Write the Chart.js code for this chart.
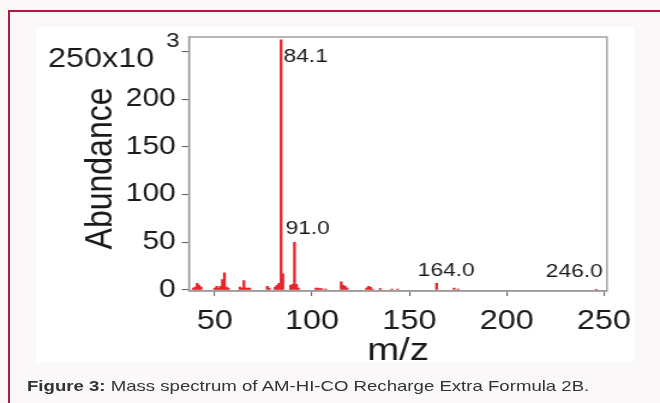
<!DOCTYPE html>
<html><head><meta charset="utf-8">
<script src="https://cdn.jsdelivr.net/npm/chart.js@4.4.1/dist/chart.umd.min.js"></script>
<style>
html,body{margin:0;padding:0;}
body{width:660px;height:403px;background:#faf8f9;position:relative;overflow:hidden;font-family:"Liberation Sans",Arial,sans-serif;}
#frame{position:absolute;left:8px;top:10px;width:700px;height:450px;border-left:2px solid #b01c40;border-top:2px solid #b01c40;}
#panel{position:absolute;left:36px;top:27px;width:598px;height:335px;background:#fff;}
#wrap{position:absolute;left:36px;top:27px;width:498px;height:360px;transform:scaleX(1.2);transform-origin:0 0;}
#cap{position:absolute;left:27px;top:377px;font-size:15px;color:#333;white-space:nowrap;transform:scaleX(1.24);transform-origin:0 0;}
</style></head>
<body>
<div id="frame"></div><div id="panel"></div>
<div id="wrap"><canvas id="c" width="498" height="360"></canvas></div>
<div id="cap"><b>Figure 3:</b> Mass spectrum of AM-HI-CO Recharge Extra Formula 2B.</div>
<script>
const mzValues  = [39,40,41,42,43,50,51,52,53,54,55,56,57,63,64,65,66,67,68,77,78,81,82,83,84.1,85,89,90,91,92,93,102,103,104,105,107,115,116,117,118,128,129,130,131,135,141,144,164,173,175,246];
const abundance = [2000,3000,7000,5000,3000,2000,4000,2000,4000,11000,18000,3000,2000,3000,2000,10000,2000,2000,2000,4000,2000,3000,5000,7000,262000,17000,5000,6000,50000,6000,2000,2000,2000,1500,1500,1000,8500,5000,4000,2000,2000,4000,3000,1000,1500,1000,1000,7000,2000,1000,500];
const xTickValues = [50,100,150,200,250];
const yTickValues = [0,50000,100000,150000,200000,250000];
const yTopTickText = "250x10";
const yTopExponent = "3";
const peakLabelMz   = [84.1,91.0,164.0,246.0];
const peakLabelText = ["84.1","91.0","164.0","246.0"];
const xTitle = "m/z";
const yTitle = "Abundance ";

const FONT = "'Liberation Sans', Arial, sans-serif";
const labelStyle = {
  "84.1":  {dx:2,   dy:17,  align:'left'},
  "91.0":  {dx:11,  dy:-14, align:'center'},
  "164.0": {dx:8,   dy:-13, align:'center'},
  "246.0": {dx:5.5, dy:-18, align:'right'}
};

const overlay = {
  id:'overlay',
  afterDraw(chart){
    const {ctx, chartArea:a, scales:{x,y}} = chart;
    ctx.save();
    ctx.strokeStyle = '#9a9a9a';
    ctx.lineWidth = 1.4;
    ctx.strokeRect(a.left, a.top, a.right-a.left, a.bottom-a.top);
    ctx.fillStyle = '#1a1a1a';
    ctx.font = '19px ' + FONT;
    ctx.textBaseline = 'middle';
    peakLabelMz.forEach((m,i)=>{
      const idx = mzValues.indexOf(m);
      const px = x.getPixelForValue(m);
      const py = y.getPixelForValue(abundance[idx]);
      const st = labelStyle[peakLabelText[i]];
      ctx.textAlign = st.align;
      ctx.fillText(peakLabelText[i], px+st.dx, py+st.dy);
    });
    const ty = y.getPixelForValue(yTickValues[yTickValues.length-1]);
    ctx.textAlign = 'right';
    ctx.font = '27px ' + FONT;
    ctx.fillText(yTopTickText, a.left - 29, ty + 8);
    ctx.font = '20px ' + FONT;
    ctx.fillText(yTopExponent, a.left - 8, ty - 10);
    ctx.restore();
  }
};

new Chart(document.getElementById('c'), {
  type:'bar',
  data:{datasets:[{
    data: mzValues.map((m,i)=>({x:m, y:abundance[i]})),
    backgroundColor:'#e6262b',
    borderWidth:0,
    barThickness:1.7,
    grouped:false
  }]},
  options:{
    responsive:false, animation:false, devicePixelRatio:1,
    layout:{padding:{top:10,right:22.2,left:0,bottom:0}},
    plugins:{legend:{display:false}, tooltip:{enabled:false}},
    scales:{
      x:{
        type:'linear', min:36.8, max:251.5, offset:false,
        afterBuildTicks:s=>{s.ticks = xTickValues.map(v=>({value:v}));},
        afterFit:s=>{s.height = 96; s.paddingLeft = 0; s.paddingRight = 0;},
        ticks:{autoSkip:false, maxRotation:0, padding:9, color:'#1a1a1a', font:{family:FONT, size:27}},
        grid:{display:true, offset:false, drawOnChartArea:false, drawTicks:true, tickLength:5, color:'#666', lineWidth:1.1},
        border:{display:true, color:'#9a9a9a', width:1.4},
        title:{display:true, text:xTitle, color:'#1a1a1a', font:{family:FONT, size:32}, padding:{top:0,bottom:17}}
      },
      y:{
        min:-1000, max:265000,
        afterBuildTicks:s=>{s.ticks = yTickValues.map(v=>({value:v}));},
        afterFit:s=>{s.width = 127.5; s.paddingTop = 0; s.paddingBottom = 0;},
        ticks:{autoSkip:false, padding:5, color:'#1a1a1a', font:{family:FONT, size:25},
          callback:v=> v===yTickValues[yTickValues.length-1] ? '' : String(v/1000)},
        grid:{display:true, offset:false, drawOnChartArea:false, drawTicks:true, tickLength:6, color:'#666', lineWidth:1.1},
        border:{display:true, color:'#9a9a9a', width:1.4},
        title:{display:true, text:yTitle, color:'#1a1a1a', font:{family:FONT, size:32}, padding:{top:35,bottom:0}}
      }
    }
  },
  plugins:[overlay]
});
</script>
</body></html>
